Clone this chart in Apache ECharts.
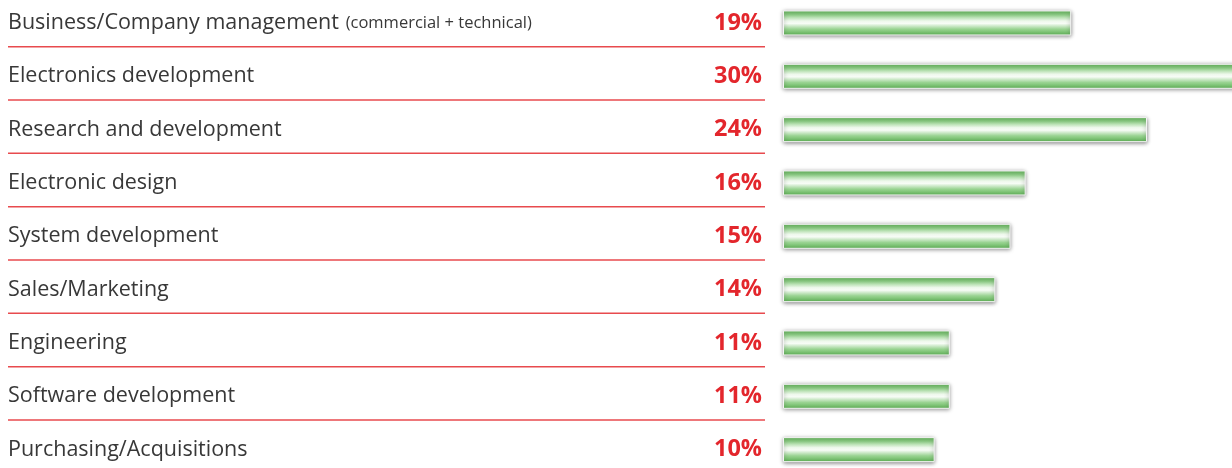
<!DOCTYPE html>
<html lang="en">
<head>
    <meta charset="UTF-8">
    <title>job functions</title>
    <style>
        html, body { margin: 0; padding: 0; background: #fff; }
        #chart { width: 1232px; height: 468px; }
    </style>
</head>
<body>
<div id="chart"></div>
<script src="https://cdn.jsdelivr.net/npm/echarts@6/dist/echarts.min.js"></script>
<script>
    // categories, small notes after the name, and shares in percent
    const categories = [
        'Business/Company management',
        'Electronics development',
        'Research and development',
        'Electronic design',
        'System development',
        'Sales/Marketing',
        'Engineering',
        'Software development',
        'Purchasing/Acquisitions'
    ];
    const notes = ['(commercial + technical)', '', '', '', '', '', '', '', ''];
    const shares = [19, 30, 24, 16, 15, 14, 11, 11, 10];

    const textFont = '"Open Sans", "Noto Sans", sans-serif';
    const red = '#e3262c';

    const myChart = echarts.init(document.getElementById('chart'));

    const option = {
        animation: false,
        grid: {
            left: 783,
            width: 455,
            top: -3.7,
            height: 480,
            outerBoundsMode: 'none'
        },
        xAxis: {
            type: 'value',
            min: 0,
            max: 30,
            show: false
        },
        yAxis: {
            type: 'category',
            data: categories,
            inverse: true,
            show: false
        },
        series: [
            {
                type: 'bar',
                data: shares,
                barWidth: 25,
                clip: false,
                itemStyle: {
                    borderColor: '#f4f4f4',
                    borderWidth: 1,
                    shadowBlur: 4,
                    shadowColor: 'rgba(0,0,0,0.45)',
                    shadowOffsetY: 1,
                    color: new echarts.graphic.LinearGradient(0, 0, 0, 1, [
                        {offset: 0, color: '#66ba5d'},
                        {offset: 0.18, color: '#92d08a'},
                        {offset: 0.42, color: '#eef8ec'},
                        {offset: 0.52, color: '#f7fcf6'},
                        {offset: 0.75, color: '#98d290'},
                        {offset: 1, color: '#60b657'}
                    ])
                }
            },
            {
                // row texts, percentages and red separators
                type: 'custom',
                data: shares.map((v, i) => [v, i]),
                encode: {x: 0, y: 1},
                renderItem(params, api) {
                    const i = api.value(1);
                    const y = api.coord([0, i])[1];
                    const children = [
                        {
                            type: 'text',
                            style: {
                                x: 8,
                                y: y,
                                text: notes[i]
                                    ? '{a|' + categories[i] + '}  {b|' + notes[i] + '}'
                                    : '{a|' + categories[i] + '}',
                                verticalAlign: 'middle',
                                rich: {
                                    a: {fontSize: 21.5, fontFamily: textFont, fill: '#383838'},
                                    b: {fontSize: 16.5, fontFamily: textFont, fill: '#383838'}
                                }
                            }
                        },
                        {
                            type: 'text',
                            style: {
                                x: 762,
                                y: y,
                                text: api.value(0) + '%',
                                align: 'right',
                                verticalAlign: 'middle',
                                fontSize: 23.5,
                                fontWeight: 'bold',
                                fontFamily: textFont,
                                fill: red
                            }
                        }
                    ];
                    if (i < categories.length - 1) {
                        children.push({
                            type: 'line',
                            shape: {x1: 8, y1: y + 23.7, x2: 765, y2: y + 23.7},
                            style: {stroke: '#e84a4e', lineWidth: 1.5}
                        });
                    }
                    return {type: 'group', children: children};
                }
            }
        ]
    };

    myChart.setOption(option);
</script>
</body>
</html>
